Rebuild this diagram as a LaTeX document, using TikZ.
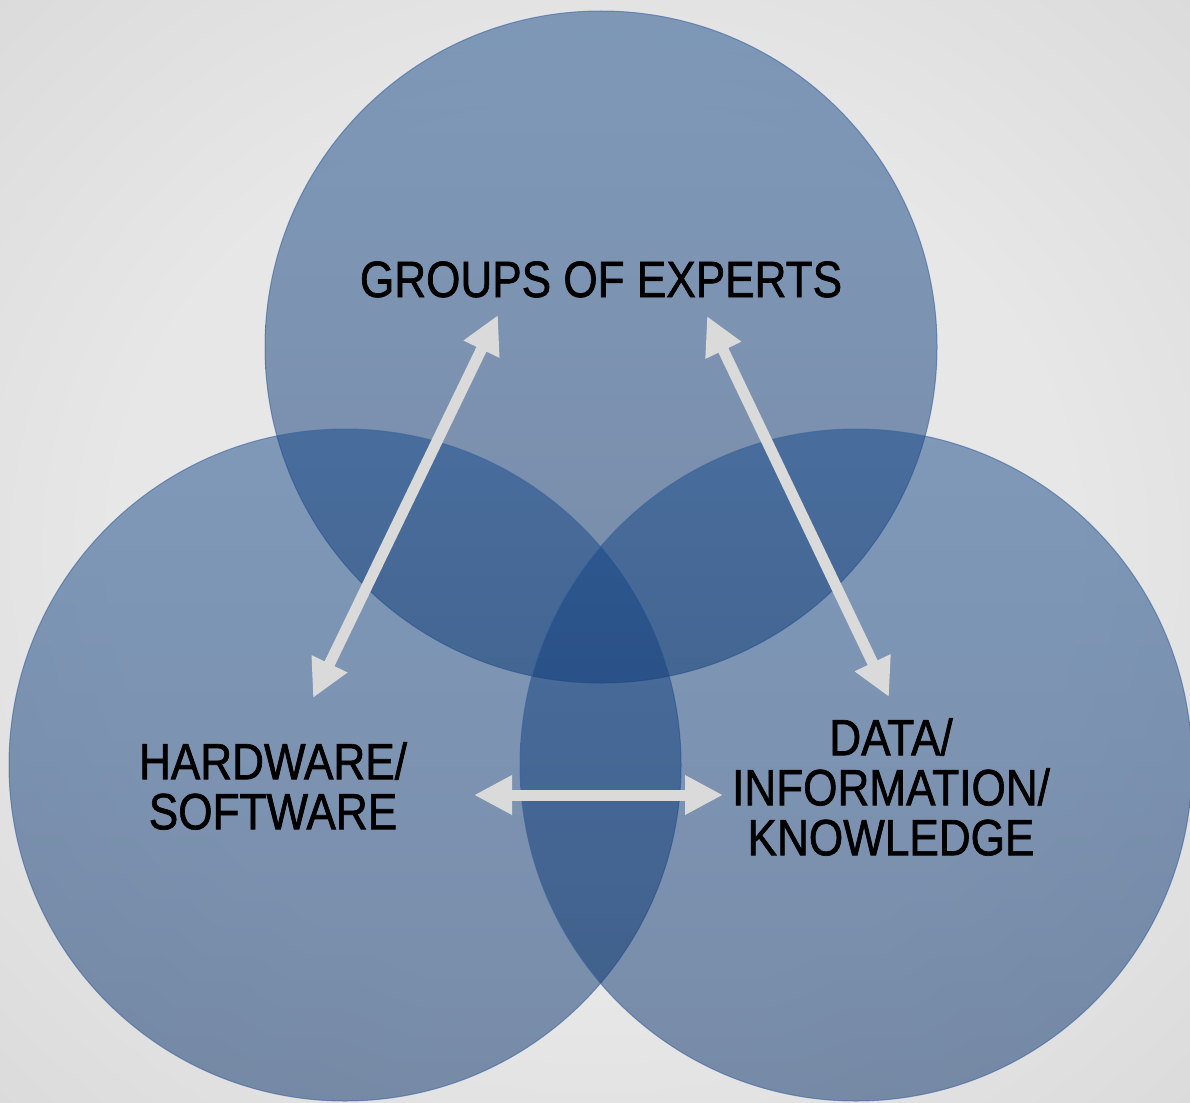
\documentclass[tikz,border=0pt]{standalone}
\usepackage{fontspec}
\setmainfont{Liberation Sans}[FakeStretch=0.865,FakeBold=1.3]
\usetikzlibrary{arrows.meta}
\definecolor{venntop}{RGB}{20,72,138}
\definecolor{vennbot}{RGB}{6,47,104}
\definecolor{vennedge}{RGB}{60,100,160}
\definecolor{arrowgray}{RGB}{218,218,218}
\definecolor{bginner}{RGB}{231,231,231}
\definecolor{bgouter}{RGB}{208,208,208}
\pgfdeclareradialshading{bgshade}{\pgfpoint{0bp}{0bp}}{color(0bp)=(bginner); color(20bp)=(bginner); color(50bp)=(bgouter); color(60bp)=(bgouter)}
\begin{document}
\begin{tikzpicture}[x=1pt,y=-1pt,
  venn/.style={circle, minimum size=672pt, inner sep=0pt, top color=venntop, bottom color=vennbot,
    fill opacity=0.49, draw=vennedge, draw opacity=0.6, line width=1pt},
  lbl/.style={font=\fontsize{51}{50}\selectfont, text=black, align=center, inner sep=0pt, text opacity=1},
  dbl/.style={draw=arrowgray, line width=11pt,
    {Triangle[length=38pt,width=37pt]}-{Triangle[length=38pt,width=37pt]}}]
\useasboundingbox (0,0) rectangle (1190,1102);
\shade[shading=bgshade] (0,0) rectangle (1190,1102);
% circles
\node[venn] (experts) at (601,347) {};
\node[venn] (hardware) at (345,765) {};
\node[venn] (data) at (856,765) {};
% labels
\node[lbl, anchor=base] (lexperts) at (601,297) {GROUPS OF EXPERTS};
\node[lbl] (lhardware) at (273,786) {HARDWARE/\\SOFTWARE};
\node[lbl] (ldata) at (891,787) {DATA/\\INFORMATION/\\KNOWLEDGE};
% arrow end points
\coordinate (hwtop) at (313,698);
\coordinate (gxleft) at (498,315);
\coordinate (gxright) at (707,316);
\coordinate (dttop) at (889,697);
\coordinate (hwright) at (474,795);
\coordinate (dtleft) at (723,795);
\draw[dbl] (hwtop) -- (gxleft);
\draw[dbl] (gxright) -- (dttop);
\draw[dbl] (hwright) -- (dtleft);
\end{tikzpicture}
\end{document}
